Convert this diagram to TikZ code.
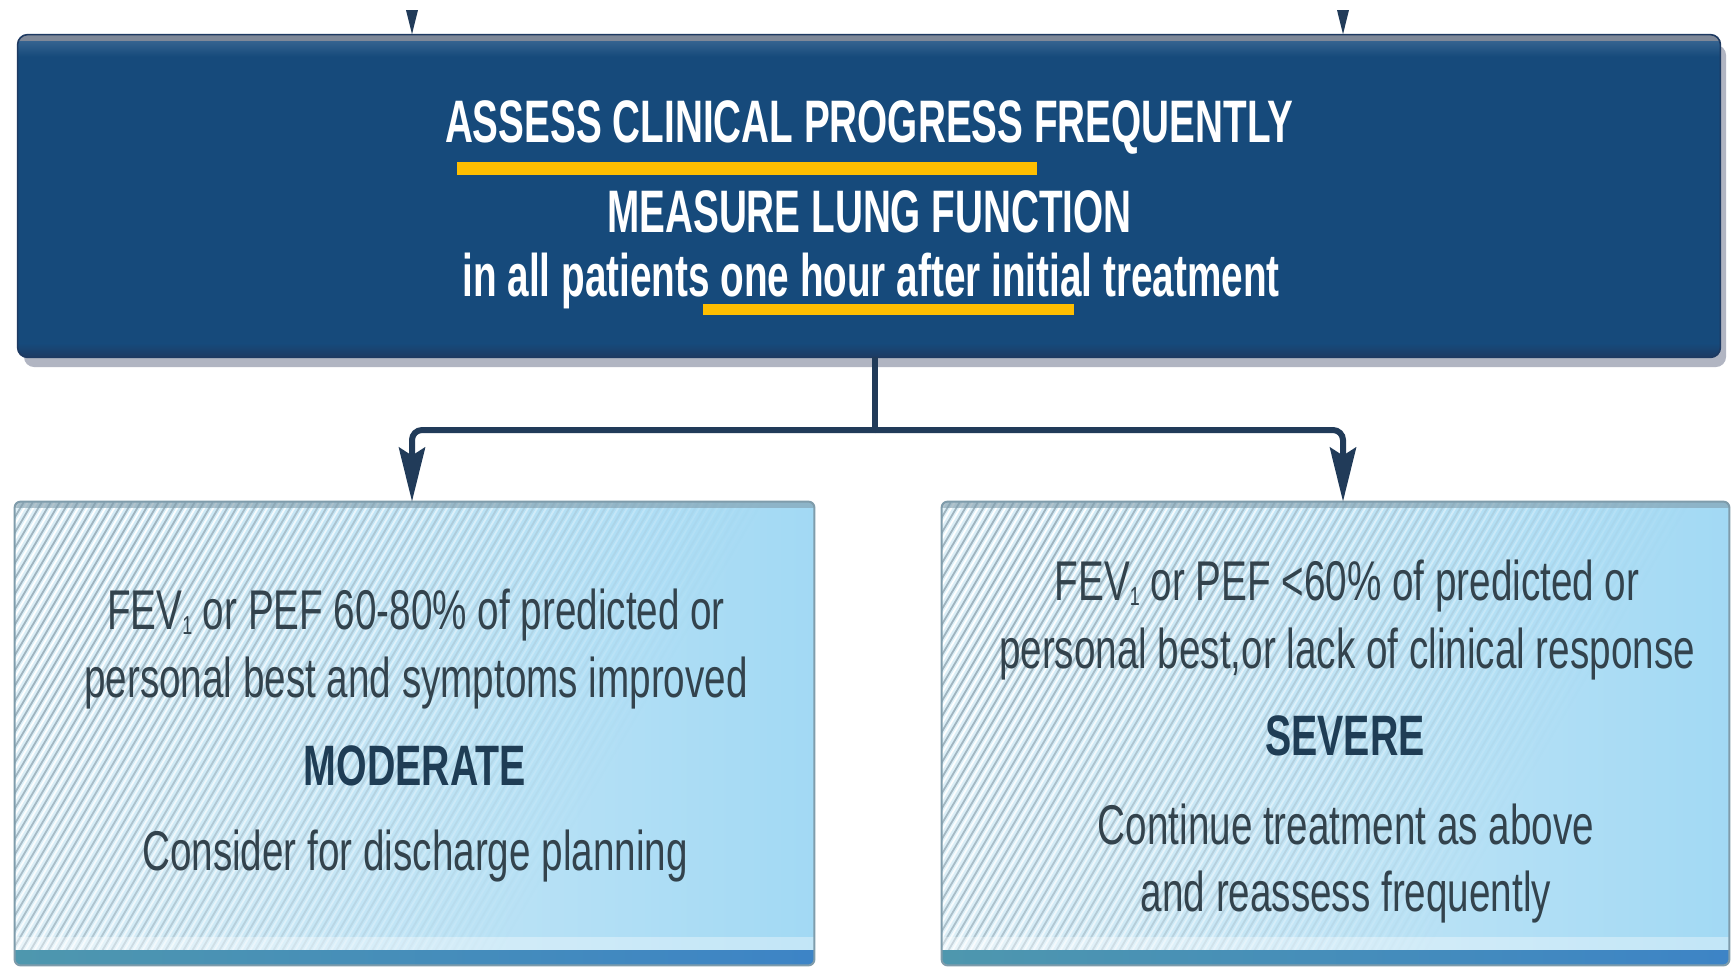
\documentclass[tikz,border=0pt]{standalone}
\usepackage{fontspec}
\setmainfont{Liberation Sans}
\newfontfamily\headfont{Liberation Sans}[FakeStretch=0.645]
\newfontfamily\bodyfont{Liberation Sans}[FakeStretch=0.69]
\usetikzlibrary{arrows.meta,shadows}

\definecolor{topnavy}{HTML}{164A7B}
\definecolor{topnavylight}{HTML}{34628F}
\definecolor{topnavydark}{HTML}{1E3A62}
\definecolor{topedge}{HTML}{7E8898}
\definecolor{shadowgray}{HTML}{A4A9B8}
\definecolor{linenavy}{HTML}{213B59}
\definecolor{markgold}{HTML}{FFBE00}
\definecolor{paleblue}{HTML}{DDEFF7}
\definecolor{skyblue}{HTML}{A2D9F4}
\definecolor{hatchgray}{HTML}{9FB4BF}
\definecolor{bandteal}{HTML}{4E97AE}
\definecolor{bandblue}{HTML}{3D84C6}
\definecolor{lowedge}{HTML}{7F9CAB}
\definecolor{slatetext}{HTML}{33434D}
\definecolor{gradenavy}{HTML}{1F3D55}

\tikzset{
  topbox/.style={rectangle, rounded corners=5pt, fill=topnavy, inner sep=0pt,
    minimum width=851pt, minimum height=161pt,
    drop shadow={shadow xshift=3pt, shadow yshift=-5pt, fill=shadowgray, opacity=0.85}},
  toptext/.style={anchor=base, inner sep=0pt, text=white,
    font=\headfont\bfseries\fontsize{30pt}{30pt}\selectfont},
  lowbox/.style={rectangle, rounded corners=3pt, left color=paleblue, right color=skyblue,
    inner sep=0pt, minimum height=231.5pt},
  bodytext/.style={anchor=base, inner sep=0pt, text=slatetext,
    font=\bodyfont\fontsize{28pt}{28pt}\selectfont},
  gradetext/.style={anchor=base, inner sep=0pt, text=gradenavy,
    font=\bodyfont\bfseries\fontsize{28.5pt}{28pt}\selectfont},
  hatchline/.style={draw=hatchgray, line width=0.9pt},
  hatchlight/.style={draw=white, line width=0.9pt},
  conn/.style={draw=linenavy, line width=3pt, rounded corners=5pt},
  arrowtip/.style={-{Stealth[length=27pt, width=13pt, inset=4pt]}},
}

% small lowered index digit, as in FEV1
\newcommand\lowidx[1]{\raisebox{-0.1em}{\fontsize{13pt}{13pt}\selectfont #1}}

% hatching, bottom band and rim of a light result box
\newcommand\hatchbox[1]{%
  \begin{scope}
    \clip[rounded corners=3pt] (#1.south west) rectangle (#1.north east);
    \foreach \k in {0,...,95}{%
      \pgfmathsetmacro\op{max(0,min(1,1.0*(1-(\k*9-136)/620)))}
      \draw[hatchlight, opacity=\op] ([xshift={\k*4.5pt-134pt}]#1.south west) -- ++(272,-463);
      \draw[hatchline, opacity=\op] ([xshift={\k*4.5pt-136pt}]#1.south west) -- ++(272,-463);
    }
    \fill[white, opacity=0.35] ([yshift=7.5pt]#1.south west) rectangle ([yshift=14pt]#1.south east);
    \shade[left color=bandteal, right color=bandblue] (#1.south west) rectangle ([yshift=7.5pt]#1.south east);
    \fill[lowedge, opacity=0.6] (#1.north west) rectangle ([yshift=-3pt]#1.north east);
  \end{scope}
  \draw[lowedge, line width=1pt, rounded corners=3pt] (#1.south west) rectangle (#1.north east);
}

\begin{document}
\begin{tikzpicture}[x=0.5pt, y=-0.5pt]
  \fill[white] (0,0) rectangle (1731,970);
  \useasboundingbox (0,0) rectangle (1731,970);

  % assessment box
  \node[topbox] (assess) at (869,196) {};
  \begin{scope}
    \clip[rounded corners=5pt] (assess.south west) rectangle (assess.north east);
    \fill[topedge] (assess.north west) rectangle ([yshift=-3.5pt]assess.north east);
    \shade[top color=topnavylight, bottom color=topnavy]
      ([yshift=-3.5pt]assess.north west) rectangle ([yshift=-11pt]assess.north east);
    \shade[top color=topnavy, bottom color=topnavydark]
      ([yshift=7pt]assess.south west) rectangle (assess.south east);
  \end{scope}
  \draw[topnavydark, line width=0.8pt, rounded corners=5pt] (assess.south west) rectangle (assess.north east);

  \node[toptext] (assessline) at (869,142) {ASSESS CLINICAL PROGRESS FREQUENTLY};
  \node[toptext] (measureline) at (869.5,232) {MEASURE LUNG FUNCTION};
  \node[toptext] (timeline) at (871,296) {in all patients one hour after initial treatment};
  \fill[markgold] (457,162) rectangle (1037,175);
  \fill[markgold] (703,304) rectangle (1074,315);

  % result boxes
  \node[lowbox, minimum width=399.5pt] (mod) at (414.5,733.5) {};
  \hatchbox{mod}
  \node[lowbox, minimum width=393.5pt] (sev) at (1335.5,733.5) {};
  \hatchbox{sev}

  \node[bodytext] (modA) at (416,629) {FEV\lowidx{1} or PEF 60-80\% of predicted or};
  \node[bodytext] (modB) at (416,697) {personal best and symptoms improved};
  \node[gradetext] (modC) at (415,785) {MODERATE};
  \node[bodytext] (modD) at (415,870) {Consider for discharge planning};

  \node[bodytext] (sevA) at (1347,600) {FEV\lowidx{1} or PEF <60\% of predicted or};
  \node[bodytext] (sevB) at (1347,668) {personal best,or lack of clinical response};
  \node[gradetext] (sevC) at (1345,755) {SEVERE};
  \node[bodytext] (sevD) at (1346,844) {Continue treatment as above};
  \node[bodytext] (sevE) at (1346,911) {and reassess frequently};

  % connectors
  \coordinate (junc) at (875,430);
  \coordinate (inL) at (412,-60);
  \coordinate (inR) at (1343,-60);
  \draw[conn] (assess.south -| junc) -- (junc);
  \draw[conn, arrowtip] (junc) -| (mod.north -| inL);
  \draw[conn, arrowtip] (junc) -| (sev.north -| inR);
  \begin{scope}
    \clip (0,10) rectangle (1731,60);
    \draw[conn, arrowtip] (inL) -- (assess.north -| inL);
    \draw[conn, arrowtip] (inR) -- (assess.north -| inR);
  \end{scope}
\end{tikzpicture}
\end{document}
